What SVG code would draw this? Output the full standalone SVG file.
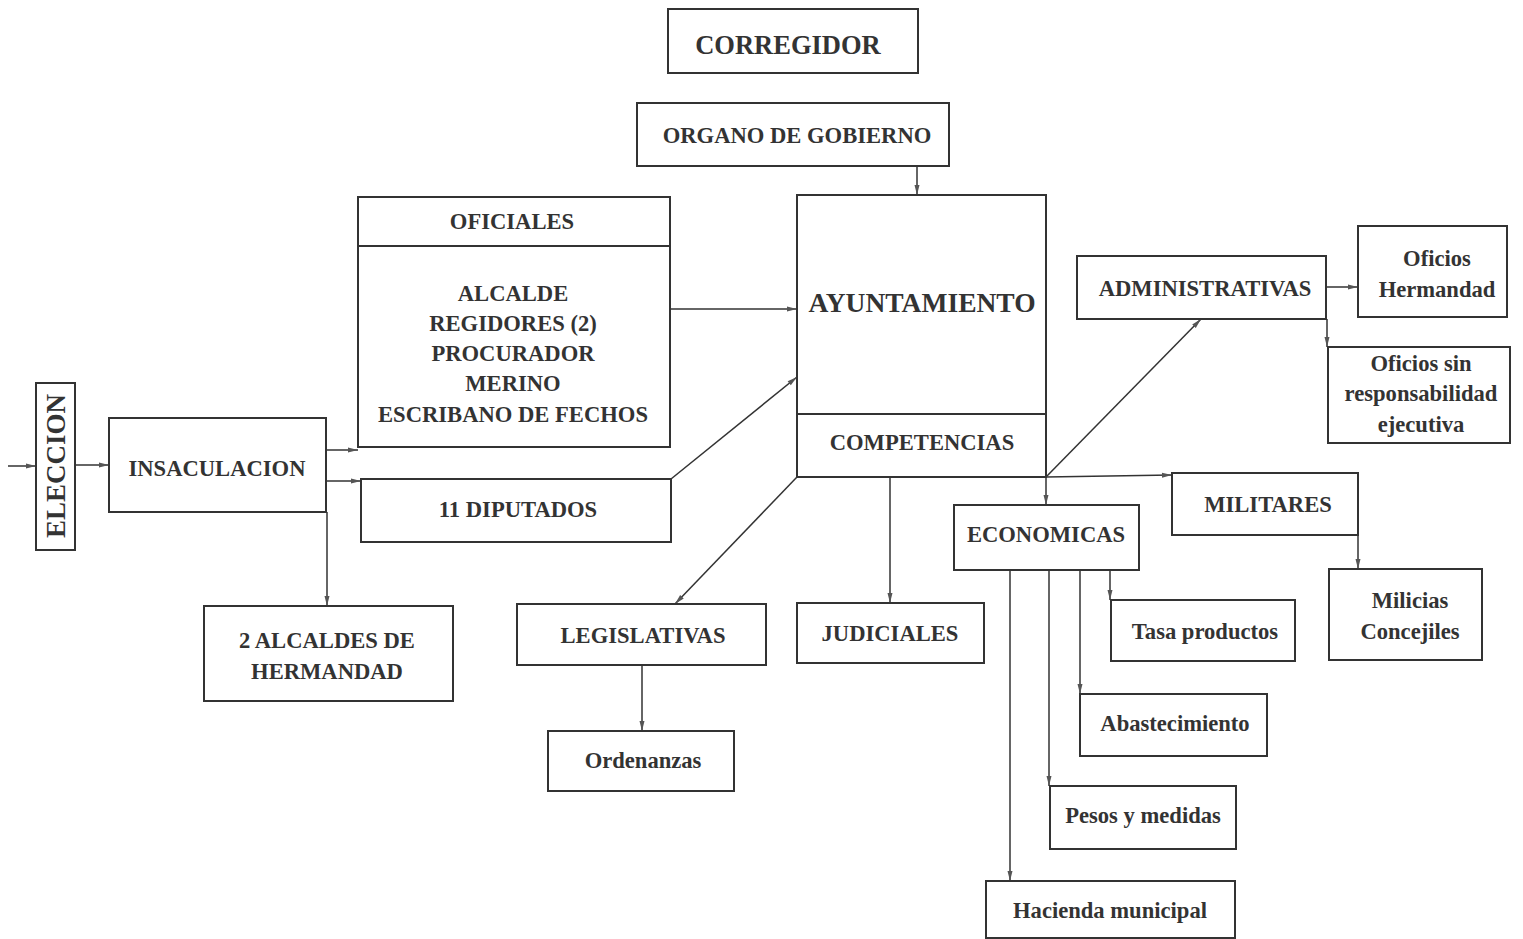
<svg xmlns="http://www.w3.org/2000/svg" width="1523" height="939" viewBox="0 0 1523 939">
<style>
.box{fill:none;stroke:#333;stroke-width:2}
.t{font-family:"Liberation Serif","Times New Roman",serif;font-weight:bold;font-size:22.6px;fill:#333;text-anchor:middle}
.big{font-size:27.5px}
.c{fill:none;stroke:#333;stroke-width:1.5}
</style>
<defs>
<marker id="ah" viewBox="0 0 10 6" refX="10" refY="3" markerWidth="11" markerHeight="6" markerUnits="userSpaceOnUse" orient="auto">
<path d="M0,0.5 L10,3 L0,5.5 Z" fill="#555"/>
</marker>
</defs>
<rect width="1523" height="939" fill="#fff"/>
<g id="connectors">
<path class="c" marker-end="url(#ah)" d="M8 466 L36 466"/>
<path class="c" marker-end="url(#ah)" d="M75 465 L109 465"/>
<path class="c" marker-end="url(#ah)" d="M326 450 L358 450"/>
<path class="c" marker-end="url(#ah)" d="M326 481 L361 481"/>
<path class="c" marker-end="url(#ah)" d="M327 512 L327 606"/>
<path class="c" marker-end="url(#ah)" d="M670 309 L797 309"/>
<path class="c" marker-end="url(#ah)" d="M671 479 L797 377"/>
<path class="c" marker-end="url(#ah)" d="M917 166 L917 195"/>
<path class="c" marker-end="url(#ah)" d="M797 477 L675 604"/>
<path class="c" marker-end="url(#ah)" d="M642 665 L642 731"/>
<path class="c" marker-end="url(#ah)" d="M890 477 L890 603"/>
<path class="c" marker-end="url(#ah)" d="M1046 477 L1172 475"/>
<path class="c" marker-end="url(#ah)" d="M1046 477 L1201 319"/>
<path class="c" marker-end="url(#ah)" d="M1046 477 L1046 505"/>
<path class="c" marker-end="url(#ah)" d="M1326 287 L1358 287"/>
<path class="c" marker-end="url(#ah)" d="M1327 319 L1327 347"/>
<path class="c" marker-end="url(#ah)" d="M1358 535 L1358 569"/>
<path class="c" marker-end="url(#ah)" d="M1110 570 L1110 600"/>
<path class="c" marker-end="url(#ah)" d="M1080 570 L1080 694"/>
<path class="c" marker-end="url(#ah)" d="M1049 570 L1049 786"/>
<path class="c" marker-end="url(#ah)" d="M1010 570 L1010 881"/>
</g>
<g id="corregidor"><rect class="box" x="668" y="9" width="250" height="64"/><text class="t" x="788" y="54" style="font-size:26.5px">CORREGIDOR</text></g>
<g id="organo"><rect class="box" x="637" y="103" width="312" height="63"/><text class="t" x="797" y="143">ORGANO DE GOBIERNO</text></g>
<g id="ayuntamiento"><rect class="box" x="797" y="195" width="249" height="282"/><line class="box" x1="797" y1="414" x2="1046" y2="414"/><text class="t big" x="922" y="312">AYUNTAMIENTO</text><text class="t" x="922" y="450">COMPETENCIAS</text></g>
<g id="oficiales"><rect class="box" x="358" y="197" width="312" height="250"/><line class="box" x1="358" y1="246" x2="670" y2="246"/><text class="t" x="512" y="229">OFICIALES</text><text class="t" x="513" y="301">ALCALDE</text><text class="t" x="513" y="331">REGIDORES (2)</text><text class="t" x="513" y="361">PROCURADOR</text><text class="t" x="513" y="391">MERINO</text><text class="t" x="513" y="422">ESCRIBANO DE FECHOS</text></g>
<g id="diputados"><rect class="box" x="361" y="479" width="310" height="63"/><text class="t" x="518" y="517">11 DIPUTADOS</text></g>
<g id="eleccion"><rect class="box" x="36" y="383" width="39" height="167"/><text class="t" transform="translate(65 466) rotate(-90)" x="0" y="0" style="font-size:27px">ELECCION</text></g>
<g id="insaculacion"><rect class="box" x="109" y="418" width="217" height="94"/><text class="t" x="217" y="476">INSACULACION</text></g>
<g id="alcaldes"><rect class="box" x="204" y="606" width="249" height="95"/><text class="t" x="327" y="648">2 ALCALDES DE</text><text class="t" x="327" y="679">HERMANDAD</text></g>
<g id="legislativas"><rect class="box" x="517" y="604" width="249" height="61"/><text class="t" x="643" y="643">LEGISLATIVAS</text></g>
<g id="ordenanzas"><rect class="box" x="548" y="731" width="186" height="60"/><text class="t" x="643" y="768">Ordenanzas</text></g>
<g id="judiciales"><rect class="box" x="797" y="603" width="187" height="60"/><text class="t" x="890" y="641">JUDICIALES</text></g>
<g id="administrativas"><rect class="box" x="1077" y="256" width="249" height="63"/><text class="t" x="1205" y="296">ADMINISTRATIVAS</text></g>
<g id="oficios-hermandad"><rect class="box" x="1358" y="226" width="149" height="91"/><text class="t" x="1437" y="266">Oficios</text><text class="t" x="1437" y="297">Hermandad</text></g>
<g id="oficios-sin"><rect class="box" x="1328" y="347" width="182" height="96"/><text class="t" x="1421" y="371">Oficios sin</text><text class="t" x="1421" y="401">responsabilidad</text><text class="t" x="1421" y="432">ejecutiva</text></g>
<g id="militares"><rect class="box" x="1172" y="473" width="186" height="62"/><text class="t" x="1268" y="512">MILITARES</text></g>
<g id="milicias"><rect class="box" x="1329" y="569" width="153" height="91"/><text class="t" x="1410" y="608">Milicias</text><text class="t" x="1410" y="639">Concejiles</text></g>
<g id="economicas"><rect class="box" x="954" y="505" width="185" height="65"/><text class="t" x="1046" y="542">ECONOMICAS</text></g>
<g id="tasa"><rect class="box" x="1111" y="600" width="184" height="61"/><text class="t" x="1205" y="639">Tasa productos</text></g>
<g id="abastecimiento"><rect class="box" x="1080" y="694" width="187" height="62"/><text class="t" x="1175" y="731">Abastecimiento</text></g>
<g id="pesos"><rect class="box" x="1050" y="786" width="186" height="63"/><text class="t" x="1143" y="823">Pesos y medidas</text></g>
<g id="hacienda"><rect class="box" x="986" y="881" width="249" height="57"/><text class="t" x="1110" y="918">Hacienda municipal</text></g>
</svg>
